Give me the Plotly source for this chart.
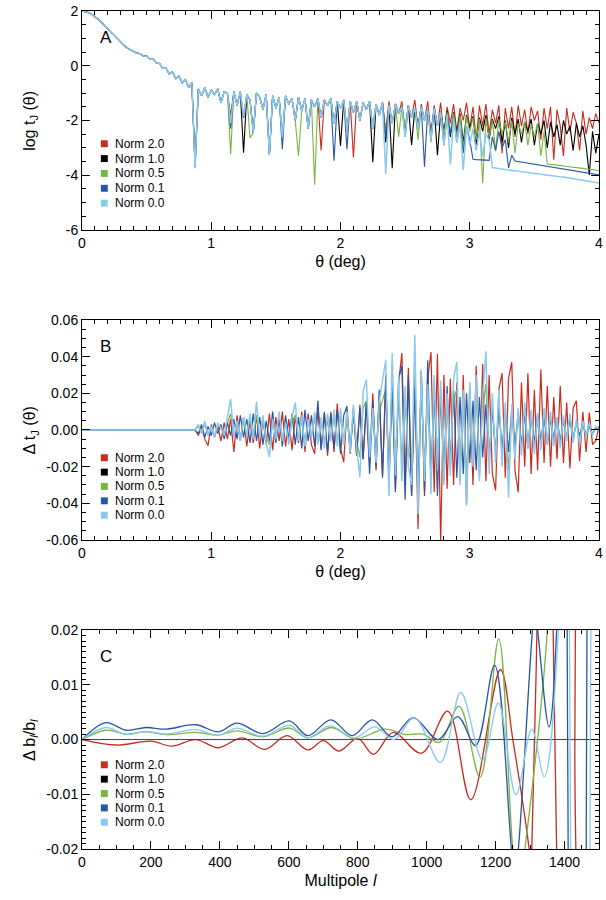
import numpy as np
import plotly.graph_objects as go

FONT = "Liberation Sans, Arial, Helvetica, sans-serif"
SERIES = ["Norm 2.0", "Norm 1.0", "Norm 0.5", "Norm 0.1", "Norm 0.0"]
COLORS = ["#c92b1f", "#000000", "#7ab443", "#2a55a2", "#8bc9f1"]

# ---------------- Panel A : log t_J(theta) ----------------
theta_common = np.linspace(0.0, 0.85, 35)
logt_common = [2.00, 1.98, 1.94, 1.88, 1.80, 1.70, 1.58, 1.47, 1.35, 1.22, 1.10, 0.97,
               0.85, 0.74, 0.65, 0.58, 0.52, 0.46, 0.44, 0.36, 0.35, 0.24, 0.25, 0.10,
               0.08, -0.10, -0.08, -0.30, -0.22, -0.48, -0.38, -0.62, -0.50, -0.80, -0.62]

theta_noisy = np.linspace(0.875, 4.0, 126)

logt_n20 = [-3.60, -0.85, -1.10, -0.80, -1.15, -0.90, -1.05, -0.85, -1.35, -0.95,
            -1.00, -1.80, -0.95, -1.45, -0.95, -1.90, -1.05, -1.25, -2.45, -1.00,
            -1.15, -1.60, -1.05, -3.20, -1.10, -1.55, -1.15, -2.60, -1.10, -1.40,
            -1.20, -2.00, -1.15, -1.65, -1.20, -2.30, -1.25, -1.50, -1.20, -3.10,
            -1.25, -1.45, -1.20, -2.10, -1.30, -1.55, -1.25, -2.40, -1.30, -3.35,
            -1.30, -2.00, -1.35, -1.60, -1.30, -2.30, -1.40, -1.80, -1.35, -2.40,
            -1.30, -2.10, -1.40, -1.75, -1.30, -2.50, -1.45, -1.90, -1.25, -2.30,
            -1.40, -2.00, -1.30, -2.50, -1.45, -2.20, -1.35, -2.60, -1.50, -2.10,
            -1.40, -2.40, -1.55, -2.00, -1.35, -2.30, -1.50, -2.70, -1.45, -2.20,
            -1.40, -2.50, -1.60, -2.10, -1.45, -3.20, -1.55, -2.30, -1.50, -2.60,
            -1.45, -2.20, -1.60, -2.50, -1.50, -2.00, -1.65, -2.70, -1.55, -2.30,
            -1.50, -3.43, -1.60, -2.20, -3.30, -1.55, -2.40, -1.70, -2.10, -3.10,
            -1.65, -2.50, -1.90, -2.30, -1.75, -2.10]

logt_n10 = [-3.70, -0.85, -1.10, -0.80, -1.15, -0.90, -1.05, -0.85, -1.35, -0.95,
            -1.00, -2.00, -0.95, -1.45, -0.95, -3.18, -1.05, -1.25, -2.45, -1.00,
            -1.15, -1.60, -1.05, -3.25, -1.10, -1.55, -1.15, -2.60, -1.10, -1.40,
            -1.20, -2.00, -1.15, -1.65, -1.20, -2.30, -1.25, -1.50, -1.20, -1.90,
            -1.25, -1.45, -1.20, -2.10, -1.30, -2.93, -1.25, -2.40, -1.30, -1.70,
            -1.30, -2.00, -1.35, -1.60, -1.30, -3.53, -1.40, -1.80, -1.35, -2.80,
            -1.45, -3.75, -1.40, -1.75, -1.50, -2.40, -1.45, -2.90, -1.55, -2.20,
            -1.50, -2.00, -1.60, -2.50, -1.55, -3.27, -1.70, -2.40, -1.65, -2.60,
            -1.70, -2.50, -1.75, -2.80, -1.80, -2.30, -1.85, -2.90, -1.90, -2.40,
            -1.80, -2.70, -1.95, -2.30, -1.85, -2.80, -2.00, -3.00, -1.90, -2.50,
            -1.95, -2.80, -2.05, -2.40, -1.95, -2.90, -2.10, -2.50, -2.00, -3.00,
            -2.05, -2.60, -2.15, -2.90, -2.00, -2.50, -2.20, -3.10, -2.10, -2.60,
            -2.20, -2.90, -3.99, -2.40, -3.20, -2.50]

logt_n05 = [-3.70, -0.85, -1.10, -0.80, -1.15, -0.90, -1.05, -0.85, -1.35, -0.95,
            -1.00, -3.23, -0.95, -1.45, -0.95, -1.90, -1.05, -2.64, -2.45, -1.00,
            -1.15, -1.60, -1.05, -3.25, -1.10, -1.55, -1.15, -2.60, -1.10, -1.40,
            -1.20, -2.00, -3.30, -1.65, -1.20, -2.30, -1.25, -4.35, -1.20, -1.90,
            -1.25, -1.45, -1.20, -2.10, -1.30, -1.55, -1.25, -2.40, -1.30, -1.70,
            -1.30, -2.00, -1.35, -1.60, -1.30, -2.30, -1.40, -1.80, -1.35, -2.50,
            -1.45, -2.10, -1.40, -2.60, -1.50, -2.20, -1.45, -1.90, -1.55, -2.70,
            -1.50, -2.00, -1.60, -2.80, -1.55, -2.20, -1.65, -2.50, -1.70, -2.40,
            -1.75, -2.60, -1.80, -3.00, -1.85, -2.40, -1.90, -2.70, -1.95, -4.29,
            -1.90, -2.60, -2.00, -3.10, -1.95, -2.50, -2.05, -2.80, -2.00, -3.20,
            -2.10, -2.50, -2.05, -2.90, -2.15, -2.60, -2.10, -3.30, -2.40,
            -3.59, -3.60, -3.62, -3.63, -3.65, -3.66, -3.68, -3.69, -3.71, -3.72,
            -3.74, -3.75, -3.77, -3.78, -3.80, -3.81, -3.83]

logt_n01 = [-3.70, -0.85, -1.10, -0.80, -1.15, -0.90, -1.05, -0.85, -1.35, -0.95,
            -1.00, -2.30, -0.95, -1.45, -0.95, -1.90, -1.05, -1.25, -2.45, -1.00,
            -1.15, -1.60, -1.05, -3.25, -1.10, -1.55, -1.15, -3.05, -1.10, -1.40,
            -1.20, -2.00, -1.15, -1.65, -1.20, -2.30, -1.25, -1.50, -1.20, -1.90,
            -1.25, -1.45, -1.20, -3.47, -1.30, -1.55, -1.25, -3.05, -1.30, -1.70,
            -1.30, -2.00, -1.35, -1.60, -1.30, -2.30, -1.40, -1.80, -1.35, -2.60,
            -1.45, -2.10, -1.40, -1.75, -1.50, -2.60, -1.45, -1.90, -1.55, -2.30,
            -1.50, -3.69, -1.60, -2.70, -1.55, -2.20, -1.70, -2.90, -1.80, -2.50,
            -1.90, -2.80, -2.10, -3.20, -2.20, -2.70,
            -3.42, -3.43, -3.43, -3.44, -3.45, -3.46,
            -2.60, -3.10, -2.40, -3.00, -2.70, -3.74, -3.27,
            -3.48, -3.50, -3.52, -3.54, -3.56, -3.58, -3.60, -3.62, -3.64, -3.66,
            -3.68, -3.70, -3.72, -3.74, -3.76, -3.78, -3.80, -3.82, -3.84, -3.86,
            -3.87, -3.89, -3.91, -3.93, -3.95, -3.97, -3.99]

logt_n00 = [-3.75, -0.85, -1.10, -0.80, -1.15, -0.90, -1.05, -0.85, -1.35, -0.95,
            -1.00, -2.10, -0.95, -1.45, -0.95, -1.85, -1.05, -1.25, -2.45, -1.00,
            -1.15, -1.60, -1.05, -3.27, -1.10, -1.55, -1.15, -2.60, -1.10, -1.40,
            -1.20, -2.00, -1.15, -1.65, -1.20, -2.30, -1.25, -1.50, -1.20, -1.90,
            -1.25, -1.45, -1.20, -2.10, -1.30, -1.55, -1.25, -2.40, -1.30, -1.70,
            -1.30, -2.00, -1.35, -1.60, -1.30, -2.30, -1.40, -1.80, -1.35, -3.96,
            -1.45, -2.10, -1.40, -1.75, -1.50, -2.60, -1.45, -1.90, -1.55, -2.30,
            -1.50, -2.00, -1.60, -2.70, -1.55, -2.20, -1.70, -2.90, -1.80, -3.62,
            -1.90, -2.80, -2.10, -3.81, -2.20, -2.90, -2.30, -3.10, -2.40, -3.30,
            -2.50, -2.70,
            -3.72, -3.74, -3.76, -3.77, -3.79, -3.81, -3.82, -3.84, -3.86, -3.87,
            -3.89, -3.90, -3.92, -3.94, -3.95, -3.97, -3.98, -4.00, -4.01, -4.03,
            -4.04, -4.06, -4.07, -4.09, -4.10, -4.12, -4.13, -4.15, -4.17, -4.19,
            -4.21, -4.23, -4.26, -4.29]

# ---------------- Panel B : Delta t_J(theta) ----------------
theta_flat = [0.0, 0.85]
dt_flat = [0.0, 0.0]

dt_n20 = [0.000, -0.003, 0.002, -0.005, -0.0085, 0.003, -0.004, 0.002, -0.006, 0.004,
          -0.005, 0.006, -0.012, 0.008, -0.006, 0.007, -0.009, 0.005, -0.007, 0.008,
          -0.010, 0.006, -0.008, 0.009, -0.011, 0.007, -0.006, 0.010, -0.009, 0.006,
          -0.011, 0.008, -0.007, 0.010, -0.012, 0.009, -0.008, -0.013, 0.011, -0.010,
          0.009, -0.014, 0.010, -0.012, 0.0144, -0.010, -0.0175, 0.011, -0.013, 0.012,
          -0.014, 0.0137, -0.016, 0.015, -0.018, 0.020, -0.022, 0.019, -0.025, 0.024,
          -0.028, 0.030, -0.032, 0.026, 0.042, -0.030, 0.034, -0.036, 0.030, -0.054,
          0.032, -0.036, 0.028, 0.0425, -0.034, 0.0414, -0.062, 0.030, -0.032, 0.028,
          -0.030, 0.026, -0.028, 0.030, -0.041, 0.024, -0.030, 0.035, -0.026, 0.036,
          -0.028, 0.030, -0.024, -0.033, 0.022, 0.031, -0.026, 0.028, 0.037, -0.022,
          -0.034, 0.026, -0.020, 0.031, -0.024, 0.022, -0.022, 0.033, -0.018, 0.024,
          -0.020, 0.018, -0.016, 0.024, -0.018, 0.015, -0.021, 0.012, 0.016, -0.017,
          0.010, -0.012, 0.0095, -0.008, -0.006, 0.002]

dt_n05 = [0.000, 0.002, -0.001, 0.003, -0.002, 0.001, -0.003, 0.002, 0.001, -0.002,
          0.004, 0.009, -0.003, 0.003, -0.004, 0.004, -0.002, 0.005, -0.003, 0.008,
          -0.003, 0.005, -0.004, -0.008, 0.004, -0.003, 0.006, -0.004, 0.003, -0.005,
          0.004, 0.008, -0.004, 0.005, -0.006, 0.004, -0.003, 0.006, -0.005, 0.004,
          -0.006, 0.005, -0.004, 0.007, -0.006, 0.007, -0.005, 0.006, -0.008, 0.008,
          -0.006, -0.015, 0.012, 0.016, -0.009, 0.007, -0.011, 0.010, 0.016, 0.022,
          -0.021, 0.024, -0.015, 0.018, -0.017, 0.014, -0.012, -0.018, 0.030, -0.027,
          0.020, -0.017, 0.015, -0.021, 0.018, -0.013, 0.016, -0.018, 0.012, -0.015,
          0.017, 0.022, -0.018, 0.013, -0.024, 0.016, -0.012, 0.018, -0.017, 0.011,
          0.025, -0.014, 0.012, -0.011, 0.013, -0.012, 0.009, -0.022, 0.008, -0.010,
          0.007, -0.008, 0.009, -0.006, 0.007, -0.008, 0.005, -0.007, 0.007, -0.005,
          0.006, -0.005, 0.004, -0.006, 0.005, -0.004, 0.005, -0.004, 0.004, -0.005,
          0.003, -0.002, 0.002, -0.002, 0.001, 0.000]

dt_n01 = [0.000, -0.002, 0.003, -0.004, 0.002, -0.003, 0.004, -0.002, 0.003, -0.005,
          0.004, -0.003, 0.006, -0.005, 0.008, -0.004, 0.006, -0.007, 0.009, -0.006,
          0.007, -0.008, 0.005, -0.006, 0.010, -0.007, 0.006, -0.009, 0.008, -0.005,
          0.009, -0.008, 0.007, -0.010, 0.011, -0.006, 0.008, -0.009, 0.016, -0.011,
          0.010, -0.012, 0.009, -0.010, 0.011, -0.013, 0.008, 0.013, -0.012, 0.010,
          -0.014, 0.012, -0.016, 0.015, -0.024, 0.016, -0.020, 0.022, -0.026, 0.030,
          -0.030, 0.026, -0.034, 0.028, 0.035, -0.038, 0.030, -0.036, 0.024, -0.040,
          0.032, -0.034, 0.038, -0.030, 0.026, -0.036, 0.022, -0.028, 0.024, -0.020,
          0.022, -0.026, 0.018, -0.024, 0.020, -0.018, 0.016, -0.022, 0.018, -0.015,
          0.014, -0.016, 0.012, -0.014, 0.013, -0.011, 0.010, -0.012, 0.011, -0.009,
          0.010, -0.008, 0.009, -0.010, 0.008, -0.007, 0.009, -0.006, 0.007, -0.008,
          0.006, -0.005, 0.007, -0.006, 0.005, -0.004, 0.006, -0.005, 0.004, -0.003,
          0.004, -0.003, 0.002, -0.002, 0.001, 0.000]

dt_n00 = [0.000, 0.003, -0.002, 0.005, -0.003, 0.002, -0.004, 0.004, 0.001, -0.003,
          0.006, 0.017, -0.004, 0.005, -0.006, 0.007, -0.003, 0.009, -0.005, 0.0155,
          -0.004, 0.008, -0.007, -0.0148, 0.006, -0.005, 0.010, -0.006, 0.004, -0.008,
          0.007, 0.015, -0.006, 0.008, -0.009, 0.006, -0.004, 0.010, -0.008, 0.007,
          -0.010, 0.009, -0.006, 0.011, -0.009, 0.012, -0.008, 0.010, -0.012, 0.014,
          -0.010, -0.0256, 0.021, 0.0276, -0.015, 0.012, -0.018, 0.016, 0.027, 0.038,
          -0.036, 0.042, -0.025, 0.030, -0.028, 0.024, -0.020, -0.030, 0.052, -0.046,
          0.033, -0.028, 0.025, -0.035, 0.030, -0.022, 0.027, -0.030, 0.020, -0.025,
          0.028, 0.037, -0.030, 0.022, -0.041, 0.026, -0.020, 0.030, -0.028, 0.018,
          0.043, -0.024, 0.020, -0.018, 0.022, -0.020, 0.015, -0.037, 0.014, -0.016,
          0.012, -0.014, 0.015, -0.010, 0.011, -0.013, 0.009, -0.011, 0.012, -0.008,
          0.010, -0.009, 0.007, -0.010, 0.008, -0.006, 0.009, -0.007, 0.006, -0.008,
          0.005, -0.004, 0.004, -0.003, 0.002, 0.000]

# ---------------- Panel C : Delta b_l / b_l ----------------
ell_n20 = [0, 100, 200, 260, 330, 395, 465, 530, 595, 655, 700, 745, 800, 846, 903, 985,
           1061, 1128, 1214, 1250, 1297, 1301, 1305, 1320, 1340, 1360, 1367, 1372, 1377,
           1395, 1420, 1430, 1440, 1500]
db_n20 = [0.0, -0.0010, -0.0003, -0.0012, 0.0, -0.0015, 0.0003, -0.0018, 0.0007, -0.0019,
          -0.0002, -0.0021, 0.0002, -0.0027, 0.0013, -0.0025, 0.0052, -0.0110, 0.0128, 0.0,
          -0.020, -0.024, -0.020, 0.020, 0.10, 0.10, 0.020, 0.0, -0.020, -0.10, -0.10, 0.0,
          0.10, 0.30]

ell_n10 = [0, 1500]
db_n10 = [0.0, 0.0]

ell_n05 = [0, 69, 128, 186, 243, 330, 396, 449, 525, 602, 655, 725, 790, 880, 940, 990,
           1037, 1094, 1155, 1209, 1250, 1268, 1285, 1350, 1380, 1500]
db_n05 = [0.0, 0.0017, 0.0010, 0.0014, 0.0009, 0.0013, 0.0008, 0.0016, 0.0005, 0.0021,
          0.0003, 0.0022, 0.0001, 0.0019, 0.0009, 0.0010, -0.0005, 0.0061, -0.0069, 0.0184,
          -0.020, -0.028, -0.020, 0.020, 0.10, 0.30]

ell_n01 = [0, 69, 128, 186, 243, 330, 396, 449, 525, 602, 655, 722, 784, 842, 900, 961,
           1033, 1090, 1142, 1197, 1246, 1256, 1266, 1307, 1314, 1322, 1355, 1377, 1395,
           1409, 1423, 1450, 1464, 1478, 1500]
db_n01 = [0.0, 0.0031, 0.0017, 0.0022, 0.0019, 0.0027, 0.0014, 0.0030, 0.0011, 0.0034,
          0.0007, 0.0036, 0.0007, 0.0036, 0.0005, 0.0040, 0.0, 0.0042, -0.0011, 0.0136,
          -0.020, -0.025, -0.020, 0.020, 0.024, 0.020, 0.0023, 0.020, 0.15, 0.0, -0.15,
          -0.20, 0.0, 0.20, 0.30]

ell_n00 = [0, 69, 128, 186, 243, 330, 396, 449, 525, 602, 655, 720, 790, 850, 905, 965,
           1040, 1099, 1162, 1208, 1259, 1305, 1341, 1382, 1400, 1416, 1432, 1460, 1475,
           1490, 1500]
db_n00 = [0.0, 0.0022, 0.0009, 0.0015, 0.0010, 0.0018, 0.0008, 0.0021, 0.0006, 0.0026,
          0.0003, 0.0025, 0.0003, 0.0023, 0.0, 0.0040, -0.0042, 0.0086, -0.0038, 0.0067,
          -0.0101, 0.0019, -0.0068, 0.020, 0.15, 0.0, -0.15, -0.20, 0.0, 0.20, 0.25]

# tick labels
A_xticks = [0, 1, 2, 3, 4]
A_xlabels = ["0", "1", "2", "3", "4"]
A_yticks = [-6, -4, -2, 0, 2]
A_ylabels = ["-6", "-4", "-2", "0", "2"]
B_yticks = [-0.06, -0.04, -0.02, 0.0, 0.02, 0.04, 0.06]
B_ylabels = ["-0.06", "-0.04", "-0.02", "0.00", "0.02", "0.04", "0.06"]
C_xticks = [0, 200, 400, 600, 800, 1000, 1200, 1400]
C_xlabels = ["0", "200", "400", "600", "800", "1000", "1200", "1400"]
C_yticks = [-0.02, -0.01, 0.0, 0.01, 0.02]
C_ylabels = ["-0.02", "-0.01", "0.00", "0.01", "0.02"]

for arr in (logt_n20, logt_n10, logt_n05, logt_n01, logt_n00,
            dt_n20, dt_n05, dt_n01, dt_n00):
    assert len(arr) == 126, len(arr)

fig = go.Figure()

# Panel A traces
for name, col, vals, w in zip(SERIES, COLORS,
                              [logt_n20, logt_n10, logt_n05, logt_n01, logt_n00],
                              [1.1, 1.1, 1.1, 1.1, 1.5]):
    fig.add_trace(go.Scatter(
        x=np.concatenate([theta_common, theta_noisy]),
        y=list(logt_common) + list(vals),
        mode="lines", line=dict(color=col, width=w), name=name,
        showlegend=False, xaxis="x", yaxis="y"))

# Panel B traces (Norm 1.0 is the reference: zero, hidden under the others)
for name, col, vals, w in [(SERIES[0], COLORS[0], dt_n20, 1.2),
                           (SERIES[2], COLORS[2], dt_n05, 1.2),
                           (SERIES[3], COLORS[3], dt_n01, 1.2),
                           (SERIES[4], COLORS[4], dt_n00, 1.5)]:
    fig.add_trace(go.Scatter(
        x=list(theta_flat) + list(theta_noisy),
        y=list(dt_flat) + list(vals),
        mode="lines", line=dict(color=col, width=w), name=name,
        showlegend=False, xaxis="x2", yaxis="y2"))

# Panel C traces
for name, col, ls, vals, w in [(SERIES[0], COLORS[0], ell_n20, db_n20, 1.3),
                               (SERIES[1], "#404040", ell_n10, db_n10, 1.0),
                               (SERIES[2], COLORS[2], ell_n05, db_n05, 1.3),
                               (SERIES[3], COLORS[3], ell_n01, db_n01, 1.3),
                               (SERIES[4], COLORS[4], ell_n00, db_n00, 1.3)]:
    fig.add_trace(go.Scatter(
        x=ls, y=vals, mode="lines",
        line=dict(color=col, width=w, shape="spline" if len(ls) > 2 else "linear"),
        name=name, showlegend=False, xaxis="x3", yaxis="y3"))

# layout geometry (pixels)
W, H = 606, 900
ML, MR, MT, MB = 82, 3, 3, 51
PW, PH = W - ML - MR, H - MT - MB


def py(p):
    return (H - MB - p) / PH


def px(p):
    return (p - ML) / PW


panels = [(3, 224), (315, 537), (628, 849)]


def ax_style(**kw):
    d = dict(showline=True, linecolor="black", linewidth=1, mirror="ticks",
             ticks="inside", ticklen=8, tickwidth=1, tickcolor="black",
             showgrid=False, zeroline=False, ticklabeloverflow="allow",
             tickfont=dict(family=FONT, size=14, color="black"),
             tickmode="array")
    d.update(kw)
    return d


def minor(vals):
    return dict(ticks="inside", ticklen=4, tickwidth=1, tickcolor="black",
                showgrid=False, tickmode="array", tickvals=list(vals))


title_font = dict(family=FONT, size=16, color="black")

layout = dict(
    width=W, height=H, margin=dict(l=ML, r=MR, t=MT, b=MB),
    paper_bgcolor="white", plot_bgcolor="white", showlegend=False,
    font=dict(family=FONT, color="black"),
    xaxis=ax_style(domain=[0, 1], anchor="y", range=[0, 4], tickvals=A_xticks,
                   ticktext=A_xlabels, minor=minor(np.arange(0, 4.01, 0.1)),
                   title=dict(text="θ (deg)", font=title_font, standoff=6)),
    yaxis=ax_style(domain=[py(panels[0][1]), py(panels[0][0])], anchor="x",
                   range=[-6, 2], tickvals=A_yticks, ticktext=A_ylabels,
                   minor=minor(np.arange(-6, 2.01, 0.5))),
    xaxis2=ax_style(domain=[0, 1], anchor="y2", range=[0, 4], tickvals=A_xticks,
                    ticktext=A_xlabels, minor=minor(np.arange(0, 4.01, 0.1)),
                    title=dict(text="θ (deg)", font=title_font, standoff=6)),
    yaxis2=ax_style(domain=[py(panels[1][1]), py(panels[1][0])], anchor="x2",
                    range=[-0.06, 0.06], tickvals=B_yticks, ticktext=B_ylabels,
                    minor=minor(np.arange(-0.06, 0.0601, 0.005))),
    xaxis3=ax_style(domain=[0, 1], anchor="y3", range=[0, 1500], tickvals=C_xticks,
                    ticktext=C_xlabels, minor=minor(np.arange(0, 1501, 50)),
                    title=dict(text="Multipole <i>l</i>", font=title_font, standoff=6)),
    yaxis3=ax_style(domain=[py(panels[2][1]), py(panels[2][0])], anchor="x3",
                    range=[-0.02, 0.02], tickvals=C_yticks, ticktext=C_ylabels,
                    minor=minor(np.arange(-0.02, 0.02001, 0.001))),
)
fig.update_layout(**layout)

annotations = []
shapes = []
ytitles = ["log t<sub>J</sub> (θ)", "Δ t<sub>J</sub> (θ)", "Δ b<sub><i>l</i></sub>/b<sub><i>l</i></sub>"]
letters = ["A", "B", "C"]
legend_rows = [[137, 152, 167, 182, 197],
               [454, 468.5, 483, 497.5, 512],
               [764, 778.5, 793, 807.5, 822]]
for k, (top, bot) in enumerate(panels):
    annotations.append(dict(text=ytitles[k], xref="paper", yref="paper",
                            x=px(30), y=py((top + bot) / 2), textangle=-90,
                            showarrow=False, xanchor="center", yanchor="middle",
                            font=title_font))
    annotations.append(dict(text=letters[k], xref="paper", yref="paper",
                            x=px(98), y=py(top + 27), showarrow=False,
                            xanchor="left", yanchor="middle",
                            font=dict(family=FONT, size=17, color="black")))
    for name, col, ry in zip(SERIES, COLORS, legend_rows[k]):
        shapes.append(dict(type="rect", xref="paper", yref="paper",
                           x0=px(101), x1=px(108), y0=py(ry + 3.5), y1=py(ry - 3.5),
                           fillcolor=col, line=dict(width=0)))
        annotations.append(dict(text=name, xref="paper", yref="paper",
                                x=px(113), y=py(ry), showarrow=False,
                                xanchor="left", yanchor="middle",
                                font=dict(family=FONT, size=12, color="black")))

fig.update_layout(annotations=annotations, shapes=shapes)
fig.write_html("out.html", config={"displayModeBar": False},
               post_script="document.body.style.margin='0';document.body.style.padding='0';")
